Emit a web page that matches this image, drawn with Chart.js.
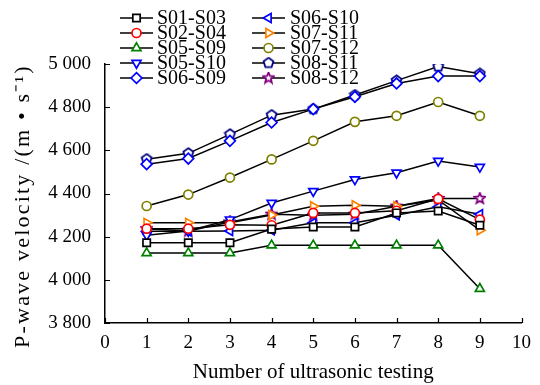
<!DOCTYPE html>
<html>
<head>
<meta charset="utf-8">
<script src="https://cdn.jsdelivr.net/npm/chart.js@4.4.1/dist/chart.umd.min.js"></script>
<style>
  html, body { margin: 0; padding: 0; background: #fff; }
  #wrap { width: 540px; height: 385px; }
</style>
</head>
<body>
<div id="wrap"><canvas id="c" width="540" height="385"></canvas></div>
<script>
// ===== data =====
const tests = [1, 2, 3, 4, 5, 6, 7, 8, 9];
const xTicks = [0, 1, 2, 3, 4, 5, 6, 7, 8, 9, 10];
const yTicks = [3800, 4000, 4200, 4400, 4600, 4800, 5000];

const labels = ['S01-S03', 'S02-S04', 'S05-S09', 'S05-S10', 'S06-S09',
                'S06-S10', 'S07-S11', 'S07-S12', 'S08-S11', 'S08-S12'];

const s01_s03 = [4172, 4172, 4172, 4235, 4245, 4245, 4310, 4319, 4253];
const s02_s04 = [4237, 4237, 4255, 4253, 4310, 4310, 4320, 4375, 4279];
const s05_s09 = [4124, 4124, 4124, 4160, 4160, 4160, 4160, 4160, 3959];
const s05_s10 = [4207, 4226, 4279, 4356, 4411, 4465, 4496, 4551, 4523];
const s06_s09 = [4536, 4562, 4644, 4729, 4791, 4848, 4910, 4944, 4944];
const s06_s10 = [4225, 4225, 4226, 4230, 4264, 4264, 4299, 4338, 4304];
const s07_s11 = [4264, 4264, 4264, 4300, 4341, 4346, 4341, 4370, 4230];
const s07_s12 = [4342, 4395, 4474, 4558, 4644, 4732, 4760, 4824, 4760];
const s08_s11 = [4559, 4586, 4674, 4763, 4791, 4856, 4923, 4988, 4955];
const s08_s12 = [4237, 4226, 4268, 4304, 4299, 4304, 4341, 4377, 4377];

const yTitle = 'P-wave velocity /(m • s⁻¹)';
const xTitle = 'Number of ultrasonic testing';

const FONT = '"Liberation Serif", "Times New Roman", serif';

// ===== custom marker shapes (pentagon, star) =====
function shapeCanvas(color, pts) {
  const cv = document.createElement('canvas');
  cv.width = 13; cv.height = 13;
  const g = cv.getContext('2d');
  g.beginPath();
  pts.forEach((p, i) => i ? g.lineTo(6.5 + p[0], 6.5 + p[1]) : g.moveTo(6.5 + p[0], 6.5 + p[1]));
  g.closePath();
  g.fillStyle = '#fff'; g.fill();
  g.lineWidth = 1.8; g.strokeStyle = color; g.stroke();
  return cv;
}
function polyPts(n, rOut, rIn) {
  const pts = [];
  const k = rIn ? n * 2 : n;
  for (let i = 0; i < k; i++) {
    const a = -Math.PI / 2 + i * 2 * Math.PI / k;
    const r = rIn && i % 2 ? rIn : rOut;
    pts.push([Math.cos(a) * r, Math.sin(a) * r]);
  }
  return pts;
}
const pentagon = shapeCanvas('#000080', polyPts(5, 5.2));
const star = shapeCanvas('#800080', polyPts(5, 5.6, 2.5));

function ds(label, data, color, style, rot, r) {
  return {
    label, data: tests.map((x, i) => ({ x, y: data[i] })),
    borderColor: '#000', borderWidth: 1.5, tension: 0,
    pointStyle: style, pointRotation: rot, pointRadius: r, pointHoverRadius: r,
    pointBorderColor: color, pointBackgroundColor: '#fff', pointBorderWidth: 1.7
  };
}

const datasets = [
  ds(labels[0], s01_s03, '#000000', 'rect', 0, 5.2),
  ds(labels[1], s02_s04, '#ff0000', 'circle', 0, 4.5),
  ds(labels[2], s05_s09, '#008000', 'triangle', 0, 5.2),
  ds(labels[3], s05_s10, '#0000ff', 'triangle', 180, 5.2),
  ds(labels[4], s06_s09, '#0000ff', 'rectRot', 0, 5.4),
  ds(labels[5], s06_s10, '#0000ff', 'triangle', -90, 5.2),
  ds(labels[6], s07_s11, '#ff8000', 'triangle', 90, 5.2),
  ds(labels[7], s07_s12, '#808000', 'circle', 0, 4.5),
  ds(labels[8], s08_s11, '#000080', pentagon, 0, 5.5),
  ds(labels[9], s08_s12, '#800080', star, 0, 5.5)
];

// ===== inward tick marks =====
const inwardTicks = {
  id: 'inwardTicks',
  afterDatasetsDraw(chart) {
    const { ctx, chartArea: a, scales } = chart;
    ctx.save();
    ctx.strokeStyle = '#000'; ctx.lineWidth = 1.2;
    ctx.beginPath();
    scales.y.ticks.forEach(t => {
      const y = Math.round(scales.y.getPixelForValue(t.value)) + 0.5;
      ctx.moveTo(a.left, y); ctx.lineTo(a.left + 5, y);
    });
    scales.x.ticks.forEach(t => {
      const x = Math.round(scales.x.getPixelForValue(t.value)) + 0.5;
      ctx.moveTo(x, a.bottom); ctx.lineTo(x, a.bottom - 5);
    });
    ctx.stroke();
    ctx.restore();
  }
};

// ===== y title, spread along the axis like the original =====
const spreadTitle = {
  id: 'spreadTitle',
  afterDraw(chart) {
    const ctx = chart.ctx;
    ctx.save();
    ctx.translate(23, 206);
    ctx.rotate(-Math.PI / 2);
    ctx.font = '22px ' + FONT;
    ctx.letterSpacing = '2.2px';
    ctx.textAlign = 'center';
    ctx.textBaseline = 'middle';
    ctx.fillStyle = '#000';
    ctx.fillText(yTitle, 0, 0);
    ctx.restore();
  }
};

// ===== two-column legend at the top =====
const legendCols = [{ x: 120, text: 157 }, { x: 252, text: 290 }];
const legendRows = [18, 33, 48, 63, 78];
const topLegend = {
  id: 'topLegend',
  afterDraw(chart) {
    const ctx = chart.ctx;
    ctx.save();
    ctx.font = '20px ' + FONT;
    ctx.textBaseline = 'middle';
    chart.data.datasets.forEach((d, i) => {
      const col = legendCols[Math.floor(i / 5)];
      const y = legendRows[i % 5];
      ctx.strokeStyle = '#000'; ctx.lineWidth = 1.5;
      ctx.beginPath(); ctx.moveTo(col.x, y); ctx.lineTo(col.x + 33, y); ctx.stroke();
      ctx.strokeStyle = d.pointBorderColor; ctx.fillStyle = '#fff'; ctx.lineWidth = d.pointBorderWidth;
      Chart.helpers.drawPoint(ctx, { pointStyle: d.pointStyle, rotation: d.pointRotation, radius: d.pointRadius, borderWidth: d.pointBorderWidth }, col.x + 16.5, y);
      ctx.fillStyle = '#000';
      ctx.fillText(d.label, col.text, y + 1);
    });
    ctx.restore();
  }
};

const spaced = v => String(v).replace(/\B(?=(\d{3})+(?!\d))/g, ' ');

new Chart(document.getElementById('c'), {
  type: 'line',
  data: { datasets },
  plugins: [inwardTicks, spreadTitle, topLegend],
  options: {
    responsive: false,
    animation: false,
    layout: { padding: { top: 64, right: 17, left: 0, bottom: 0 } },
    plugins: { legend: { display: false }, tooltip: { enabled: false } },
    scales: {
      x: {
        type: 'linear', min: 0, max: 10,
        afterFit: s => { s.height = 62; },
        afterBuildTicks: s => { s.ticks = xTicks.map(v => ({ value: v })); },
        grid: { display: false, drawTicks: false },
        border: { display: true, color: '#000', width: 1.5 },
        ticks: { padding: 9, color: '#000', font: { family: FONT, size: 19 } },
        title: { display: true, text: xTitle, color: '#000',
                 font: { family: FONT, size: 21, lineHeight: 1.2 }, padding: { top: 0, bottom: 0 } }
      },
      y: {
        type: 'linear', min: 3800, max: 5000,
        afterFit: s => { s.width = 105; },
        afterBuildTicks: s => { s.ticks = yTicks.map(v => ({ value: v })); },
        grid: { display: false, drawTicks: false },
        border: { display: true, color: '#000', width: 1.5 },
        ticks: { padding: 14, color: '#000', font: { family: FONT, size: 19 }, callback: v => spaced(v) },
        title: { display: false }
      }
    }
  }
});
</script>
</body>
</html>
